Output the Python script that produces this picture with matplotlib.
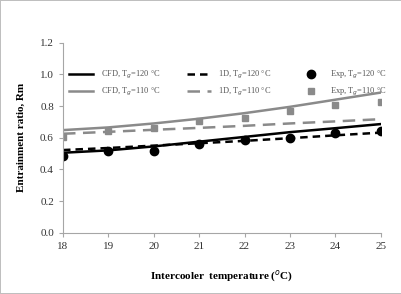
import numpy as np
import matplotlib.pyplot as plt

plt.rcParams['font.family'] = ['Liberation Serif', 'DejaVu Serif']

# intercooler temperature (C)
temp = [18, 19, 20, 21, 22, 23, 24, 25]

cfd_120 = [0.505, 0.52, 0.545, 0.575, 0.605, 0.635, 0.66, 0.686]
cfd_110 = [0.648, 0.665, 0.69, 0.72, 0.755, 0.795, 0.84, 0.885]
oned_120 = [0.522, 0.535, 0.55, 0.565, 0.58, 0.597, 0.615, 0.632]
oned_110 = [0.625, 0.637, 0.65, 0.662, 0.675, 0.69, 0.703, 0.717]
exp_120 = [0.486, 0.514, 0.514, 0.558, 0.585, 0.600, 0.630, 0.642]
exp_110 = [0.602, 0.642, 0.663, 0.707, 0.722, 0.766, 0.806, 0.825]

yticks = [0.0, 0.2, 0.4, 0.6, 0.8, 1.0, 1.2]

fig = plt.figure(figsize=(4.02, 2.94), dpi=100)
fig.patch.set_edgecolor('#bfbfbf')
fig.patch.set_linewidth(1.2)
ax = fig.add_axes([63 / 402, 1 - 232.7 / 294, (380.7 - 63) / 402, (232.7 - 42.7) / 294])

gray = '#8a8a8a'
ax.plot(temp, cfd_120, color='black', lw=1.8, label='CFD, T$_g$=120 °C')
ax.plot(temp, cfd_110, color=gray, lw=1.8, label='CFD, T$_g$=110 °C')
ax.plot(temp, oned_120, color='black', lw=1.8, ls=(0, (3, 2)), label='1D, T$_g$=120 °C')
ax.plot(temp, oned_110, color=gray, lw=1.8, ls=(0, (5, 3)), label='1D, T$_g$=110 °C')
ax.plot(temp, exp_120, 'o', color='black', ms=6, label='Exp, T$_g$=120 °C')
ax.plot(temp, exp_110, 's', color=gray, ms=5, label='Exp, T$_g$=110 °C')

ax.set_xlim(18, 25)
ax.set_ylim(0, 1.2)
ax.set_yticks(yticks)
ax.set_yticklabels(['%.1f' % v for v in yticks])
ax.set_xticks(temp)
for s in ['top', 'right']:
    ax.spines[s].set_visible(False)
for s in ['left', 'bottom']:
    ax.spines[s].set_color('#a6a6a6')
ax.tick_params(colors='#a6a6a6', labelcolor='#333333', labelsize=8, length=3)

ax.set_xlabel('Intercooler  temperature ($^{o}$C)', fontsize=8, fontweight='bold', labelpad=13)
ax.set_ylabel('Entrainment ratio, Rm', fontsize=8, fontweight='bold', labelpad=10)

ax.legend(loc='upper left', ncol=3, frameon=False, fontsize=6, handlelength=2.9,
          columnspacing=3.2, handletextpad=0.9, labelspacing=0.55,
          bbox_to_anchor=(-0.005, 0.9), labelcolor='#555555')

fig.savefig('out.png', dpi=100)
